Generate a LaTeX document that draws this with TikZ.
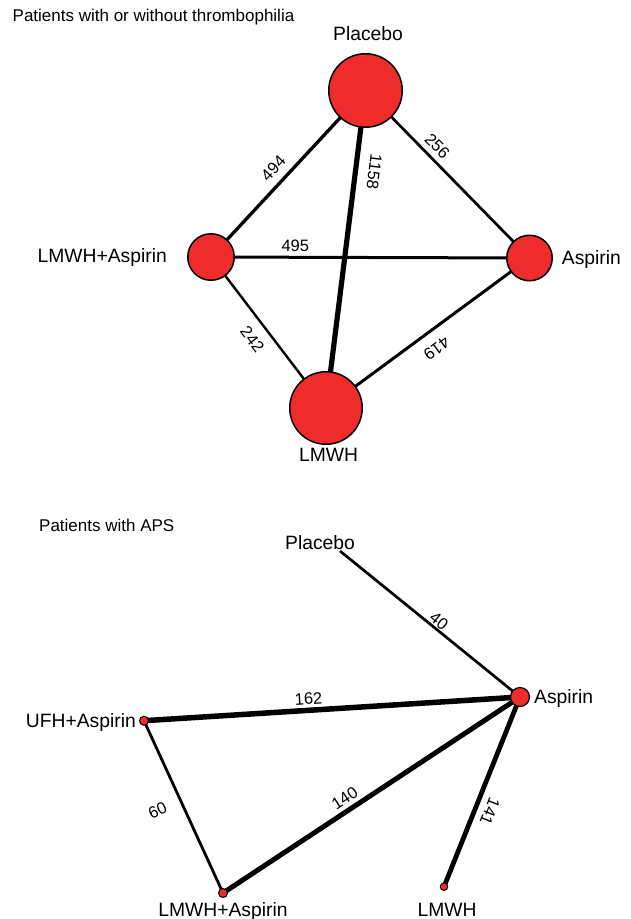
\documentclass[tikz,border=0pt]{standalone}
\usepackage{fontspec}
\setmainfont{Liberation Sans}
\usetikzlibrary{backgrounds}
\definecolor{armred}{RGB}{238,44,44}
\tikzset{
  disk/.style={circle, draw=black, line width=1.5pt, fill=armred, inner sep=0pt},
  edge/.style={draw=black, line cap=butt},
  trt/.style={inner sep=0pt, font=\fontsize{19.3}{22}\selectfont},
  elab/.style={inner sep=0pt, font=\fontsize{16.5}{19}\selectfont},
  heading/.style={inner sep=0pt, anchor=base west, font=\fontsize{17}{20}\selectfont}
}
\begin{document}
\begin{tikzpicture}[x=1pt, y=-1pt]
\useasboundingbox (0,0) rectangle (631,919);

% ---------- network: patients with or without thrombophilia ----------
\node[heading] (titleA) at (12.5,21.7) {Patients with or without thrombophilia};

\node[disk, minimum size=73.5pt] (tP)  at (365.5,90.5) {};
\node[disk, minimum size=46.5pt] (tLA) at (211,257) {};
\node[disk, minimum size=45.5pt] (tA)  at (529.5,258) {};
\node[disk, minimum size=72.5pt] (tL)  at (326,408) {};

\node[trt, anchor=base]      (tPlab)  at (368,40.7)  {Placebo};
\node[trt, anchor=base east] (tLAlab) at (167,262.7) {LMWH+Aspirin};
\node[trt, anchor=base west] (tAlab)  at (561.7,264.3) {Aspirin};
\node[trt, anchor=base]      (tLlab)  at (328.5,461.7) {LMWH};

% ---------- network: patients with APS ----------
\node[heading] (titleB) at (39,531) {Patients with APS};

\coordinate (bP) at (340,551);
\node[disk, line width=1.2pt, minimum size=19pt] (bA)  at (520,697) {};
\node[disk, line width=1pt, minimum size=9pt]  (bU)  at (144,720.7) {};
\node[disk, line width=1pt, minimum size=9pt]  (bLA) at (223,893) {};
\node[disk, line width=1pt, minimum size=7.5pt]  (bL)  at (444,886.7) {};

\node[trt, anchor=base]      (bPlab)  at (320,549) {Placebo};
\node[trt, anchor=base west] (bAlab)  at (534,703) {Aspirin};
\node[trt, anchor=base east] (bUlab)  at (136,727.3) {UFH+Aspirin};
\node[trt, anchor=base]      (bLAlab) at (223,916.5) {LMWH+Aspirin};
\node[trt, anchor=base]      (bLlab)  at (447,916.5) {LMWH};

% ---------- connectors, drawn beneath the disks ----------
\begin{scope}[on background layer]
\fill[white] (0,0) rectangle (631,919);

\draw[edge, line width=3.3pt] (tLA.center) -- node[elab, pos=0.473, shift={(-10.8,-9.9)}, rotate=47.1] {494} (tP.center);
\draw[edge, line width=5.2pt] (tP.center) -- node[elab, pos=0.2485, shift={(18.6,2.3)}, rotate=-97.1] {1158} (tL.center);
\draw[edge, line width=2.7pt] (tP.center) -- node[elab, pos=0.3834, shift={(8.9,-8.7)}, rotate=-45.6] {256} (tA.center);
\draw[edge, line width=3pt] (tLA.center) -- node[elab, pos=0.2647, shift={(0,-11.6)}] {495} (tA.center);
\draw[edge, line width=2.4pt] (tLA.center) -- node[elab, pos=0.4768, shift={(-13.5,10.3)}, rotate=-52.7] {242} (tL.center);
\draw[edge, line width=3pt] (tL.center) -- node[elab, pos=0.4926, shift={(10.5,14.2)}, rotate=216.4] {419} (tA.center);

\draw[edge, line width=2.7pt] (bP) -- node[elab, pos=0.5212, shift={(5.2,-6.4)}, rotate=-39] {40} (bA.center);
\draw[edge, line width=5.5pt] (bU.center) -- node[elab, pos=0.4394, shift={(-0.7,-11.3)}, rotate=3.6] {162} (bA.center);
\draw[edge, line width=2.8pt] (bU.center) -- node[elab, pos=0.4581, shift={(-22.6,10.4)}, rotate=24.6] {60} (bLA.center);
\draw[edge, line width=5pt] (bLA.center) -- node[elab, pos=0.4325, shift={(-6.8,-10.2)}, rotate=33.4] {140} (bA.center);
\draw[edge, line width=4.8pt] (bL.center) -- node[elab, pos=0.4244, shift={(13.7,5.5)}, rotate=-111.8] {141} (bA.center);
\end{scope}
\end{tikzpicture}
\end{document}
